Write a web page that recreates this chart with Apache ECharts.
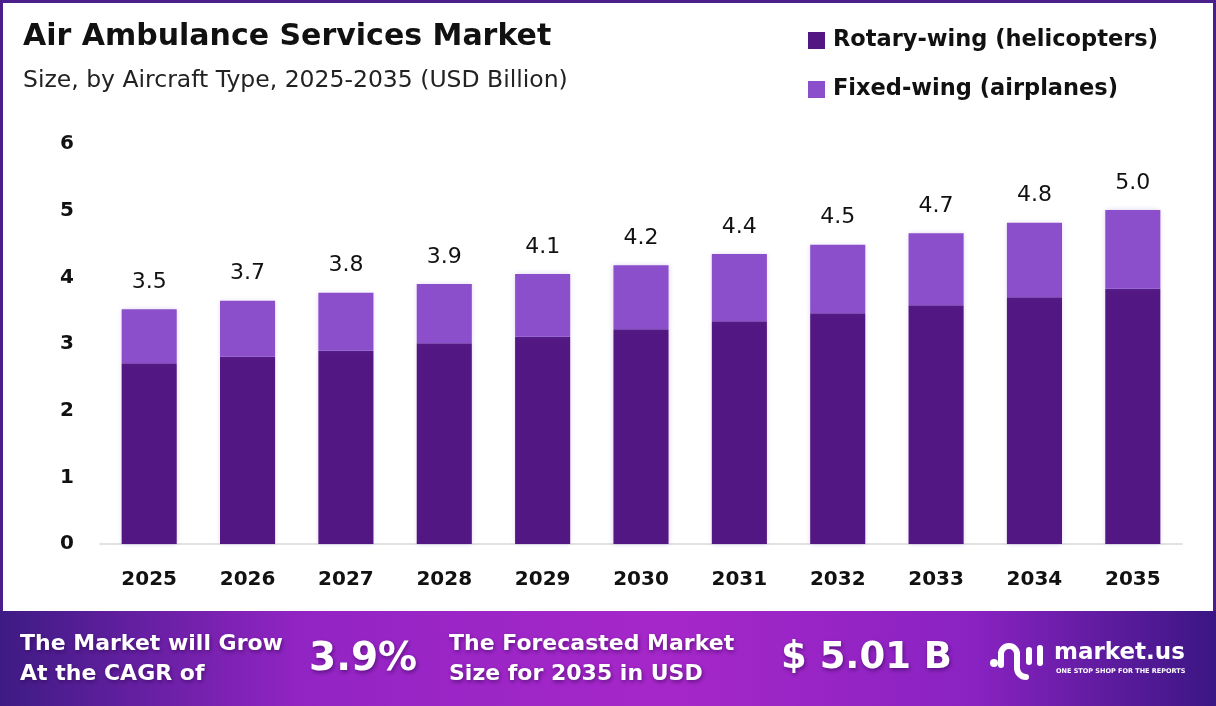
<!DOCTYPE html>
<html lang="en">
<head>
  <meta charset="UTF-8">
  <title>Air Ambulance Services Market</title>
  <script type="text/javascript" src="https://cdn.jsdelivr.net/npm/echarts@6/dist/echarts.min.js"></script>
  <style type="text/css">
    * {
      margin: 0;
      padding: 0;
    }

    html, body {
      width: 100%;
      height: 100%;
      background-color: #fff;
    }

    #chart {
      width: 1216px;
      height: 706px;
    }
  </style>
</head>

<body>
<div id="chart"></div>
</body>
<script type="text/javascript">
  // data
  var years = ['2025', '2026', '2027', '2028', '2029', '2030', '2031', '2032', '2033', '2034', '2035']
  var rotaryWing = [2.71, 2.81, 2.90, 3.01, 3.11, 3.22, 3.34, 3.46, 3.58, 3.70, 3.83]
  var fixedWing = [0.81, 0.84, 0.87, 0.89, 0.94, 0.96, 1.01, 1.03, 1.08, 1.12, 1.18]
  var totalLabels = ['3.5', '3.7', '3.8', '3.9', '4.1', '4.2', '4.4', '4.5', '4.7', '4.8', '5.0']
  var yTicks = [0, 1, 2, 3, 4, 5, 6]

  var font = '"DejaVu Sans", Inter, sans-serif'
  var darkPurple = '#521782'
  var lightPurple = '#8b4fcc'

  var myChart = echarts.init(document.getElementById('chart'))

  var footerShadow = {
    textShadowColor: 'rgba(40,0,70,0.55)',
    textShadowBlur: 4,
    textShadowOffsetX: 1,
    textShadowOffsetY: 2
  }

  // small helper for white footer texts
  function footerText(x, y, text, size, lh) {
    return {
      type: 'text',
      x: x,
      y: y,
      silent: true,
      style: Object.assign({
        text: text,
        fill: '#fff',
        font: 'bold ' + size + 'px ' + font,
        lineHeight: lh || size
      }, footerShadow)
    }
  }

  // white stroke pieces of the logo mark
  function logoLine(x1, y1, x2, y2) {
    return {
      type: 'line',
      silent: true,
      shape: {x1: x1, y1: y1, x2: x2, y2: y2},
      style: {stroke: '#fff', lineWidth: 6, lineCap: 'round'}
    }
  }

  var option = {
    backgroundColor: '#fff',
    animation: false,
    title: {
      text: 'Air Ambulance Services Market',
      subtext: 'Size, by Aircraft Type, 2025-2035 (USD Billion)',
      left: 18,
      top: 17,
      itemGap: 17,
      textStyle: {
        fontFamily: font,
        fontSize: 30,
        fontWeight: 'bold',
        color: '#111'
      },
      subtextStyle: {
        fontFamily: font,
        fontSize: 23.5,
        color: '#222'
      }
    },
    legend: {
      orient: 'vertical',
      left: 803,
      top: 24,
      itemWidth: 17,
      itemHeight: 17,
      itemGap: 26,
      icon: 'rect',
      textStyle: {
        fontFamily: font,
        fontSize: 22.5,
        fontWeight: 'bold',
        color: '#111',
        padding: [0, 0, 0, 3]
      },
      data: ['Rotary-wing (helicopters)', 'Fixed-wing (airplanes)']
    },
    grid: {
      left: 100,
      right: 34,
      top: 144,
      bottom: 162
    },
    xAxis: {
      type: 'category',
      data: years,
      axisTick: {show: false},
      axisLine: {lineStyle: {color: '#d9d9d9', width: 1.5}},
      axisLabel: {
        margin: 26,
        fontFamily: font,
        fontSize: 20,
        fontWeight: 'bold',
        color: '#111'
      }
    },
    yAxis: {
      type: 'value',
      min: yTicks[0],
      max: yTicks[yTicks.length - 1],
      interval: 1,
      splitLine: {show: false},
      axisLine: {show: false},
      axisTick: {show: false},
      axisLabel: {
        margin: 26,
        fontFamily: font,
        fontSize: 20,
        fontWeight: 'bold',
        color: '#111'
      }
    },
    series: [
      {
        name: 'Rotary-wing (helicopters)',
        type: 'bar',
        stack: 'total',
        barWidth: '56%',
        data: rotaryWing,
        itemStyle: {
          color: darkPurple,
          shadowColor: 'rgba(110,60,190,0.25)',
          shadowBlur: 5
        }
      },
      {
        name: 'Fixed-wing (airplanes)',
        type: 'bar',
        stack: 'total',
        barWidth: '56%',
        data: fixedWing,
        itemStyle: {
          color: lightPurple,
          shadowColor: 'rgba(110,60,190,0.25)',
          shadowBlur: 5
        },
        label: {
          show: true,
          position: 'top',
          distance: 16,
          fontFamily: font,
          fontSize: 22,
          color: '#111',
          formatter: function (p) {
            return totalLabels[p.dataIndex]
          }
        }
      }
    ],
    graphic: [
      // purple frame
      {
        type: 'rect',
        silent: true,
        shape: {x: 1.5, y: 1.5, width: 1213, height: 703},
        style: {fill: 'none', stroke: '#4a1f8c', lineWidth: 3}
      },
      // footer band
      {
        type: 'rect',
        silent: true,
        shape: {x: 0, y: 611, width: 1216, height: 95},
        style: {
          fill: new echarts.graphic.LinearGradient(0, 0, 1, 0, [
            {offset: 0, color: '#3e1b84'},
            {offset: 0.25, color: '#9324c4'},
            {offset: 0.55, color: '#a627c9'},
            {offset: 0.8, color: '#8a22c2'},
            {offset: 1, color: '#3b1683'}
          ])
        }
      },
      footerText(20, 629, 'The Market will Grow\nAt the CAGR of', 22, 30),
      footerText(309, 640, '3.9%', 39),
      footerText(449, 629, 'The Forecasted Market\nSize for 2035 in USD', 22, 30),
      footerText(781, 640, '$ 5.01 B', 37),
      // market.us logo
      {
        type: 'circle',
        silent: true,
        shape: {cx: 994, cy: 663, r: 4},
        style: {fill: '#fff'}
      },
      {
        type: 'arc',
        silent: true,
        shape: {cx: 1009, cy: 654, r: 8, startAngle: Math.PI, endAngle: Math.PI * 2, clockwise: true},
        style: {fill: 'none', stroke: '#fff', lineWidth: 6, lineCap: 'round'}
      },
      {
        type: 'arc',
        silent: true,
        shape: {cx: 1026, cy: 668, r: 9, startAngle: Math.PI / 2, endAngle: Math.PI, clockwise: true},
        style: {fill: 'none', stroke: '#fff', lineWidth: 6, lineCap: 'round'}
      },
      logoLine(1001, 654, 1001, 665),
      logoLine(1017, 654, 1017, 668),
      logoLine(1029, 650, 1029, 662),
      logoLine(1040, 648, 1040, 663),
      {
        type: 'text',
        x: 1054,
        y: 642,
        silent: true,
        style: {
          text: 'market.us',
          fill: '#fff',
          font: 'bold 23px ' + font
        }
      },
      {
        type: 'text',
        x: 1056,
        y: 668,
        silent: true,
        style: {
          text: 'ONE STOP SHOP FOR THE REPORTS',
          fill: '#fff',
          font: 'bold 6.5px ' + font
        }
      }
    ]
  };

  myChart.setOption(option);
</script>
</html>
